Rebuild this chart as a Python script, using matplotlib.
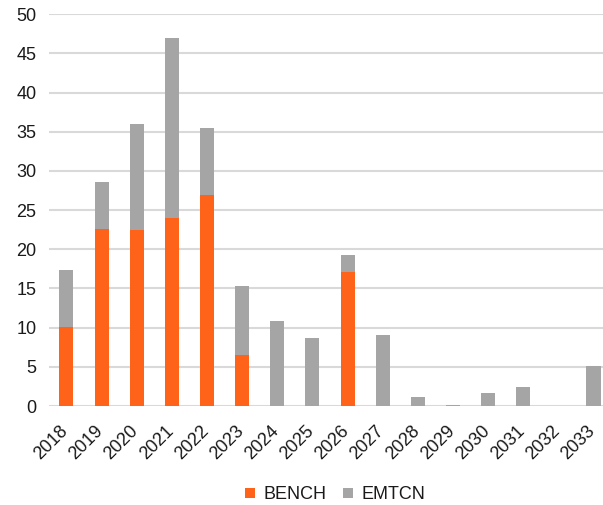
import matplotlib
matplotlib.use("Agg")
import matplotlib.pyplot as plt
import matplotlib.transforms as mtransforms
import numpy as np

plt.rcParams['font.family'] = ['Liberation Sans', 'DejaVu Sans']

years = ['2018', '2019', '2020', '2021', '2022', '2023', '2024', '2025',
         '2026', '2027', '2028', '2029', '2030', '2031', '2032', '2033']
bench = [10.1, 22.6, 22.4, 24.0, 26.9, 6.5, 0, 0, 17.1, 0, 0, 0, 0, 0, 0, 0]
total = [17.3, 28.6, 36.0, 46.9, 35.5, 15.3, 10.9, 8.7, 19.3, 9.05, 1.1, 0.1, 1.6, 2.4, 0, 5.1]
emtcn = [t - b for t, b in zip(total, bench)]

fig = plt.figure(figsize=(6.03, 5.05), dpi=100)
ax = fig.add_axes([0.081, 0.196, 0.919, 0.776])

x = np.arange(len(years))
ax.bar(x, bench, width=0.4, color='#FF631A', label='BENCH', zorder=3)
ax.bar(x, emtcn, width=0.4, bottom=bench, color='#A5A5A5', label='EMTCN', zorder=3)

ax.set_ylim(0, 50)
ax.set_yticks(range(0, 51, 5))
ax.set_xlim(-0.5, 15.27)
ax.set_xticks(x)
ax.set_xticklabels(years, rotation=45, ha='right', rotation_mode='anchor')
ax.tick_params(axis='both', length=0, labelsize=13, colors='#1a1a1a')
ax.tick_params(axis='x', pad=12)
ax.tick_params(axis='y', pad=9)
ax.grid(axis='y', color='#D9D9D9', linewidth=1.5, zorder=0)
for s in ax.spines.values():
    s.set_visible(False)

# nudge the rotated labels a little left, like the original
shift = mtransforms.ScaledTranslation(-7 / 100, 0, fig.dpi_scale_trans)
for lab in ax.get_xticklabels():
    lab.set_transform(lab.get_transform() + shift)

fig.legend(loc='center', bbox_to_anchor=(0.556, 0.02), ncol=2, frameon=False,
           fontsize=13, handlelength=0.55, handleheight=0.55, columnspacing=0.95,
           handletextpad=0.45, labelcolor='#1a1a1a')

fig.savefig('out.png', dpi=100)
